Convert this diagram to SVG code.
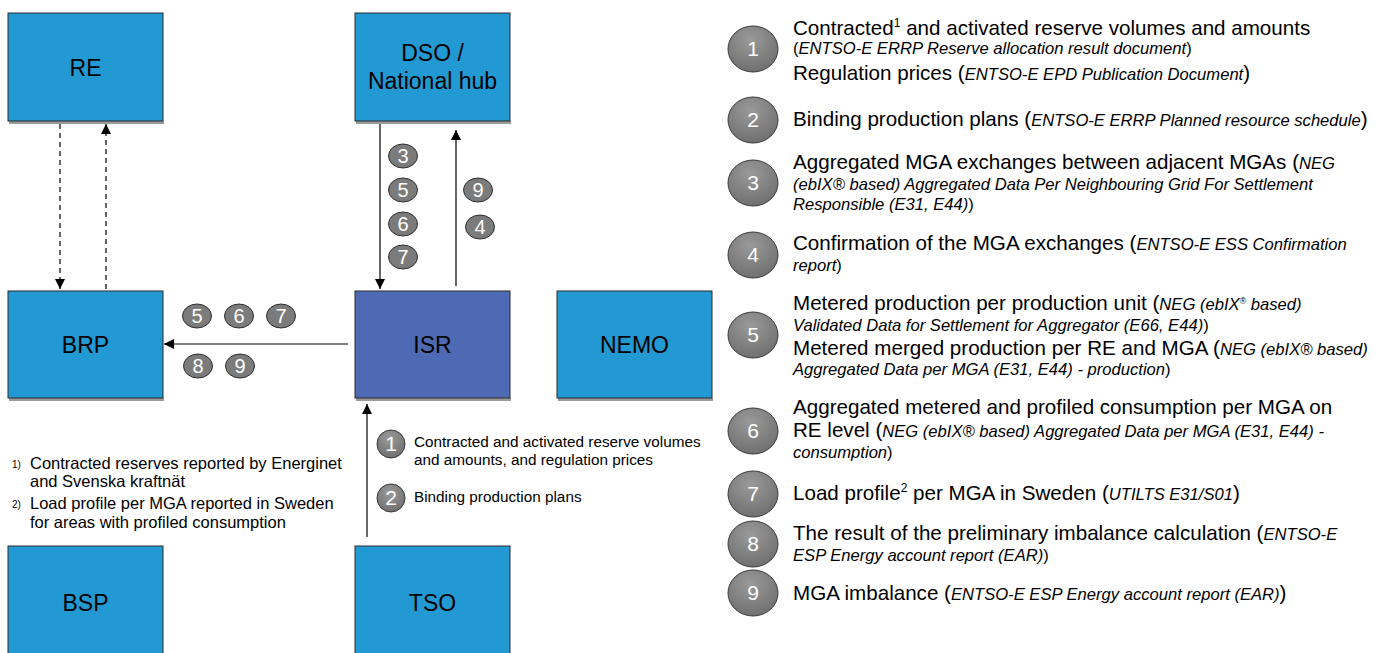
<svg xmlns="http://www.w3.org/2000/svg" width="1383" height="653" viewBox="0 0 1383 653">
<style>
text{font-family:"Liberation Sans",Arial,sans-serif;fill:#000}
.box{fill:#2299d3;stroke:#2b2b2b;stroke-width:1}
.isr{fill:#4f6ab4;stroke:#2b2b2b;stroke-width:1}
.shadow{fill:#9a9a9a}
.lbl{font-size:23px;text-anchor:middle}
.ln{stroke:#000;stroke-width:1.2;fill:none}
.dash{stroke-dasharray:5,4}
.sc{fill:#7b7b7b;stroke:#2e2e2e;stroke-width:1}
.sn{fill:#fff;font-size:20px;text-anchor:middle}
.lc{fill:url(#g);stroke:#3a3a3a;stroke-width:1}
.ln1{fill:#fff;font-size:21px;text-anchor:middle}
.m{font-size:20.6px}
.i{font-size:16.6px;font-style:italic}
.t{font-size:15.3px}
.f{font-size:16.5px}
.fn{font-size:10px}
</style>
<defs>
<radialGradient id="g" cx="0.45" cy="0.3" r="0.8">
<stop offset="0" stop-color="#9a9a9a"/>
<stop offset="1" stop-color="#6a6a6a"/>
</radialGradient>
<marker id="ah" viewBox="0 0 10 10" refX="10" refY="5" markerWidth="10" markerHeight="10" markerUnits="userSpaceOnUse" orient="auto">
<path d="M0,0 L10,5 L0,10 z" fill="#000"/>
</marker>
</defs>

<g id="node-RE">
<rect class="shadow" x="9" y="121" width="155" height="3"/>
<rect class="box" x="8" y="13" width="155" height="108"/>
<text class="lbl" x="85.5" y="76">RE</text>
</g>
<g id="node-DSO">
<rect class="shadow" x="356" y="121" width="155" height="3"/>
<rect class="box" x="355" y="13" width="155" height="108"/>
<text class="lbl" x="432.5" y="61">DSO /</text>
<text class="lbl" x="432.5" y="89">National hub</text>
</g>
<g id="node-BRP">
<rect class="shadow" x="9" y="398" width="155" height="3"/>
<rect class="box" x="8" y="291" width="155" height="107"/>
<text class="lbl" x="85.5" y="353">BRP</text>
</g>
<g id="node-ISR">
<rect class="shadow" x="356" y="398" width="155" height="3"/>
<rect class="isr" x="355" y="291" width="155" height="107"/>
<text class="lbl" x="432.5" y="353">ISR</text>
</g>
<g id="node-NEMO">
<rect class="shadow" x="558" y="398" width="155" height="3"/>
<rect class="box" x="557" y="291" width="155" height="107"/>
<text class="lbl" x="634.5" y="353">NEMO</text>
</g>
<g id="node-BSP">
<rect class="box" x="8" y="546" width="155" height="110"/>
<text class="lbl" x="85.5" y="611">BSP</text>
</g>
<g id="node-TSO">
<rect class="box" x="355" y="546" width="155" height="110"/>
<text class="lbl" x="432.5" y="611">TSO</text>
</g>

<g id="connectors">
<line class="ln dash" x1="60" y1="124" x2="60" y2="289" marker-end="url(#ah)"/>
<line class="ln dash" x1="106" y1="289" x2="106" y2="124" marker-end="url(#ah)"/>
<line class="ln" x1="380" y1="124" x2="380" y2="289" marker-end="url(#ah)"/>
<line class="ln" x1="456" y1="286" x2="456" y2="130" marker-end="url(#ah)"/>
<line class="ln" x1="348" y1="344" x2="164" y2="344" marker-end="url(#ah)"/>
<line class="ln" x1="367" y1="537" x2="367" y2="404" marker-end="url(#ah)"/>
</g>

<g id="flow-labels">
<ellipse class="sc" cx="403" cy="156" rx="14.5" ry="12"/><text class="sn" x="403" y="163">3</text>
<ellipse class="sc" cx="403" cy="190" rx="14.5" ry="12"/><text class="sn" x="403" y="197">5</text>
<ellipse class="sc" cx="403" cy="224" rx="14.5" ry="12"/><text class="sn" x="403" y="231">6</text>
<ellipse class="sc" cx="403" cy="257" rx="14.5" ry="12"/><text class="sn" x="403" y="264">7</text>
<ellipse class="sc" cx="478" cy="190" rx="14.5" ry="12"/><text class="sn" x="478" y="197">9</text>
<ellipse class="sc" cx="480" cy="227" rx="14.5" ry="12"/><text class="sn" x="480" y="234">4</text>
<ellipse class="sc" cx="197" cy="316" rx="14.5" ry="12"/><text class="sn" x="197" y="323">5</text>
<ellipse class="sc" cx="239" cy="316" rx="14.5" ry="12"/><text class="sn" x="239" y="323">6</text>
<ellipse class="sc" cx="281" cy="316" rx="14.5" ry="12"/><text class="sn" x="281" y="323">7</text>
<ellipse class="sc" cx="198" cy="366" rx="14.5" ry="12"/><text class="sn" x="198" y="373">8</text>
<ellipse class="sc" cx="240" cy="366" rx="14.5" ry="12"/><text class="sn" x="240" y="373">9</text>
</g>

<g id="tso-labels">
<ellipse class="lc" cx="391" cy="444" rx="14" ry="14"/><text class="ln1" x="391" y="451">1</text>
<text class="t" x="414" y="447">Contracted and activated reserve volumes</text>
<text class="t" x="414" y="465">and amounts, and regulation prices</text>
<ellipse class="lc" cx="391" cy="498" rx="14" ry="14"/><text class="ln1" x="391" y="505">2</text>
<text class="t" x="414" y="502">Binding production plans</text>
</g>

<g id="footnotes">
<text class="fn" x="12" y="468">1)</text>
<text class="f" x="30" y="469">Contracted reserves reported by Energinet</text>
<text class="f" x="30" y="487">and Svenska kraftnät</text>
<text class="fn" x="12" y="508">2)</text>
<text class="f" x="30" y="509">Load profile per MGA reported in Sweden</text>
<text class="f" x="30" y="528">for areas with profiled consumption</text>
</g>

<g id="legend">
<ellipse class="lc" cx="753" cy="49" rx="25" ry="23"/><text class="ln1" x="753" y="56">1</text>
<text class="m" x="793" y="35">Contracted<tspan font-size="12" dy="-8">1</tspan><tspan dy="8"> and activated reserve volumes and amounts</tspan></text>
<text x="793" y="54"><tspan class="f">(</tspan><tspan class="i">ENTSO-E ERRP Reserve allocation result document</tspan><tspan class="f">)</tspan></text>
<text x="793" y="80"><tspan class="m">Regulation prices (</tspan><tspan class="i">ENTSO-E EPD Publication Document</tspan><tspan class="m">)</tspan></text>

<ellipse class="lc" cx="753" cy="120" rx="25" ry="23"/><text class="ln1" x="753" y="127">2</text>
<text x="793" y="126"><tspan class="m">Binding production plans (</tspan><tspan class="i">ENTSO-E ERRP Planned resource schedule</tspan><tspan class="m">)</tspan></text>

<ellipse class="lc" cx="753" cy="183" rx="25" ry="23"/><text class="ln1" x="753" y="190">3</text>
<text x="793" y="169"><tspan class="m">Aggregated MGA exchanges between adjacent MGAs (</tspan><tspan class="i">NEG</tspan></text>
<text class="i" x="793" y="190">(ebIX® based) Aggregated Data Per Neighbouring Grid For Settlement</text>
<text x="793" y="210"><tspan class="i">Responsible (E31, E44)</tspan><tspan class="f">)</tspan></text>

<ellipse class="lc" cx="753" cy="255" rx="25" ry="23"/><text class="ln1" x="753" y="262">4</text>
<text x="793" y="250"><tspan class="m">Confirmation of the MGA exchanges (</tspan><tspan class="i">ENTSO-E ESS Confirmation</tspan></text>
<text x="793" y="271"><tspan class="i">report</tspan><tspan class="f">)</tspan></text>

<ellipse class="lc" cx="753" cy="335" rx="25" ry="23"/><text class="ln1" x="753" y="342">5</text>
<text x="793" y="310"><tspan class="m">Metered production per production unit (</tspan><tspan class="i">NEG (ebIX</tspan><tspan class="i" style="font-size:9px" dy="-6">®</tspan><tspan class="i" dy="6"> based)</tspan></text>
<text x="793" y="331"><tspan class="i">Validated Data for Settlement for Aggregator (E66, E44)</tspan><tspan class="f">)</tspan></text>
<text x="793" y="355"><tspan class="m">Metered merged production per RE and MGA (</tspan><tspan class="i">NEG (ebIX® based)</tspan></text>
<text x="793" y="375"><tspan class="i">Aggregated Data per MGA (E31, E44) - production</tspan><tspan class="f">)</tspan></text>

<ellipse class="lc" cx="753" cy="431" rx="25" ry="23"/><text class="ln1" x="753" y="438">6</text>
<text class="m" x="793" y="414">Aggregated metered and profiled consumption per MGA on</text>
<text x="793" y="437"><tspan class="m">RE level (</tspan><tspan class="i">NEG (ebIX® based) Aggregated Data per MGA (E31, E44) -</tspan></text>
<text x="793" y="458"><tspan class="i">consumption</tspan><tspan class="f">)</tspan></text>

<ellipse class="lc" cx="753" cy="494" rx="25" ry="23"/><text class="ln1" x="753" y="501">7</text>
<text x="793" y="500"><tspan class="m">Load profile</tspan><tspan font-size="12" dy="-8">2</tspan><tspan class="m" dy="8"> per MGA in Sweden (</tspan><tspan class="i">UTILTS E31/S01</tspan><tspan class="m">)</tspan></text>

<ellipse class="lc" cx="753" cy="544" rx="25" ry="23"/><text class="ln1" x="753" y="551">8</text>
<text x="793" y="540"><tspan class="m">The result of the preliminary imbalance calculation (</tspan><tspan class="i">ENTSO-E</tspan></text>
<text x="793" y="561"><tspan class="i">ESP Energy account report (EAR)</tspan><tspan class="f">)</tspan></text>

<ellipse class="lc" cx="753" cy="593" rx="25" ry="23"/><text class="ln1" x="753" y="600">9</text>
<text x="793" y="600"><tspan class="m">MGA imbalance (</tspan><tspan class="i">ENTSO-E ESP Energy account report (EAR)</tspan><tspan class="m">)</tspan></text>
</g>
</svg>
